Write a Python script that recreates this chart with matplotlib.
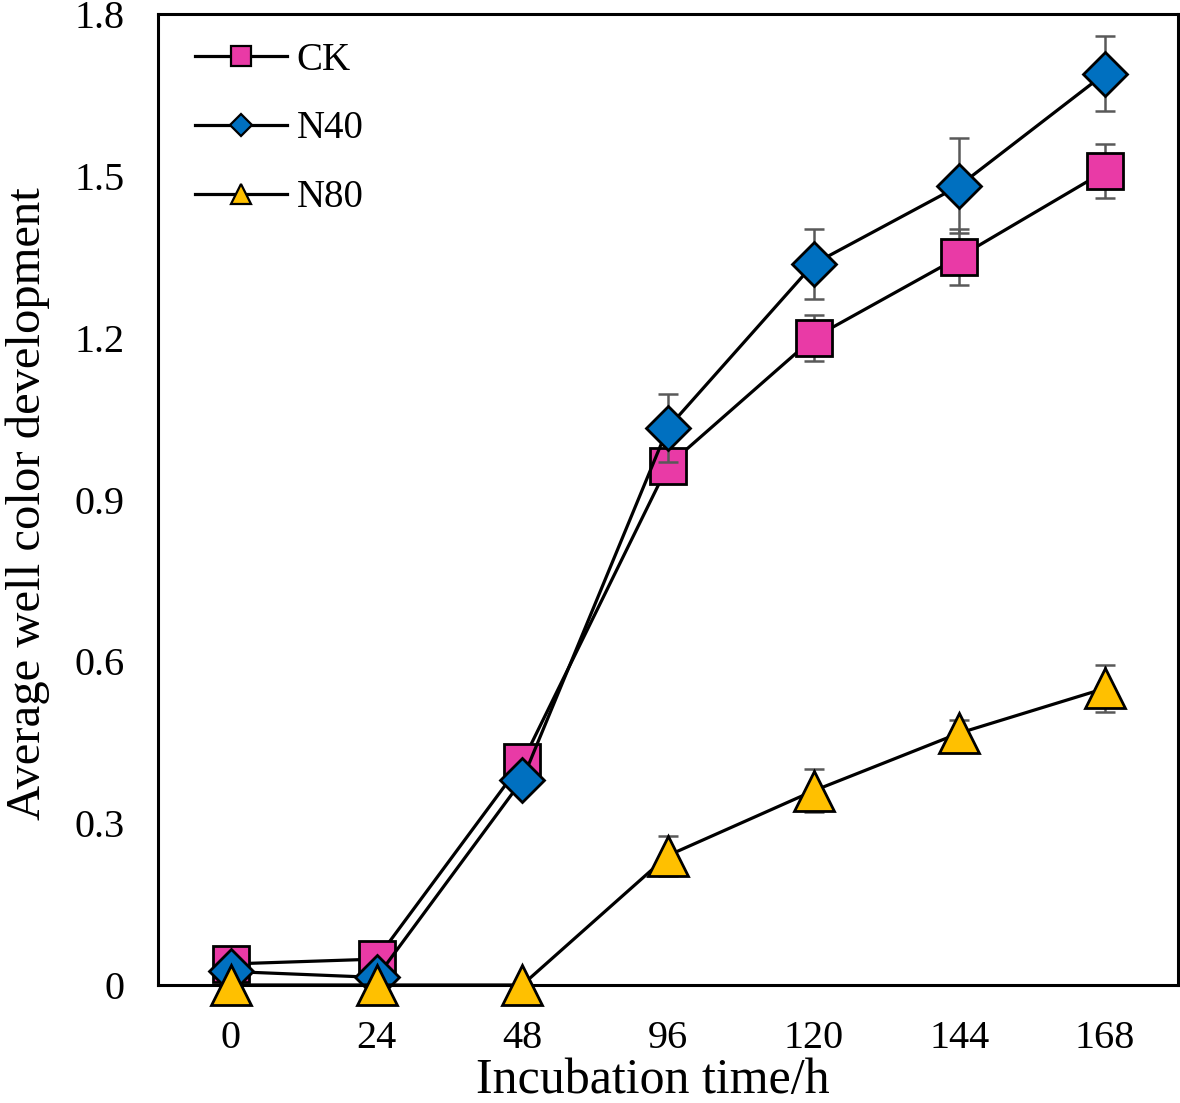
import matplotlib
matplotlib.use("Agg")
import matplotlib.pyplot as plt

plt.rcParams['font.family'] = ['Liberation Serif', 'DejaVu Serif']

# data
times = ['0', '24', '48', '96', '120', '144', '168']
ck = [0.039, 0.048, 0.413, 0.963, 1.200, 1.350, 1.509]
ck_err = [0.0, 0.0, 0.0, 0.03, 0.043, 0.052, 0.05]
n40 = [0.025, 0.014, 0.380, 1.033, 1.337, 1.482, 1.690]
n40_err = [0.0, 0.0, 0.0, 0.063, 0.065, 0.088, 0.07]
n80 = [0.0, 0.0, 0.0, 0.24, 0.36, 0.467, 0.55]
n80_err = [0.0, 0.0, 0.0, 0.037, 0.04, 0.025, 0.043]

series = [
    ('CK', ck, ck_err, 's', '#E93AA6', 26),
    ('N40', n40, n40_err, 'D', '#0070C0', 22),
    ('N80', n80, n80_err, '^', '#FFC000', 29),
]
legend_sizes = {'CK': 14, 'N40': 11, 'N80': 14}

fig = plt.figure(figsize=(11.8, 11.03), dpi=100)
ax = fig.add_axes([0.134, 0.107, 0.864, 0.880])
x = list(range(len(times)))

for i, (name, vals, errs, mk, col, ms) in enumerate(series):
    z = 3 + i * 2
    ax.errorbar(x, vals, yerr=errs, fmt='none', ecolor='#595959',
                elinewidth=1.8, capsize=7, capthick=1.8, zorder=z)
    ax.plot(x, vals, color='black', linewidth=2.3, marker=mk, markersize=ms,
            markerfacecolor=col, markeredgecolor='black', markeredgewidth=2.0,
            label=name, zorder=z + 1, clip_on=False)

ax.set_xlim(-0.5, 6.5)
ax.set_ylim(0, 1.8)
ax.set_xticks(x)
ax.set_xticklabels(times)
ax.set_yticks([0, 0.3, 0.6, 0.9, 1.2, 1.5, 1.8])
ax.set_yticklabels(['0', '0.3', '0.6', '0.9', '1.2', '1.5', '1.8'])
ax.tick_params(axis='both', length=0, labelsize=29)
ax.tick_params(axis='y', pad=24)
ax.tick_params(axis='x', pad=25)
for s in ax.spines.values():
    s.set_linewidth(2.2)

ax.set_xlabel('Incubation time/h', fontsize=36)
ax.xaxis.set_label_coords(0.485, -0.075)
ax.set_ylabel('Average well color development', fontsize=35)
ax.yaxis.set_label_coords(-0.106, 0.496)

leg = ax.legend(loc='upper left', frameon=False, fontsize=28,
                handlelength=2.36, handletextpad=0.26, labelspacing=0.82,
                borderaxespad=0, borderpad=0, bbox_to_anchor=(0.036, 0.972))
for h in leg.legend_handles:
    h.set_markersize(legend_sizes[h.get_label()])
    h.set_markeredgewidth(1.6)

fig.savefig('out.png', dpi=100)
